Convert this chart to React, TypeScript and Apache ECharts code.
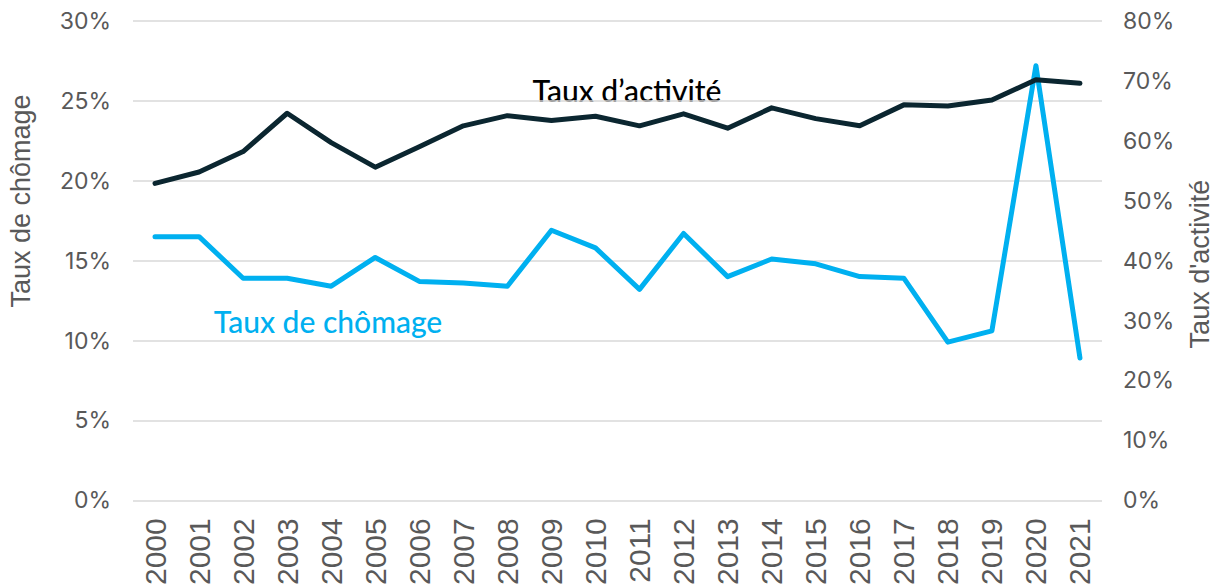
import React, { useEffect, useRef } from "react";
import * as echarts from "echarts";

const years = ["2000","2001","2002","2003","2004","2005","2006","2007","2008","2009","2010","2011","2012","2013","2014","2015","2016","2017","2018","2019","2020","2021"];
const chomage = [16.5,16.5,13.9,13.9,13.4,15.2,13.7,13.6,13.4,16.9,15.8,13.2,16.7,14.0,15.1,14.8,14.0,13.9,9.9,10.6,27.2,8.9];
const activite = [52.9,54.8,58.2,64.6,59.7,55.6,59.0,62.5,64.2,63.4,64.1,62.5,64.5,62.1,65.5,63.7,62.5,66.0,65.8,66.8,70.2,69.6];
const leftTicks = { min: 0, max: 30, interval: 5 };
const rightTicks = { min: 0, max: 80, interval: 10 };

const BLUE = "#00B0F0";
const DARK = "#0B2630";
const GRAY = "#595959";

export default function App() {
  const ref = useRef<HTMLDivElement>(null);
  useEffect(() => {
    document.body.style.margin = "0";
    const chart = echarts.init(ref.current!, null, { renderer: "svg" });
    chart.setOption({
      animation: false,
      grid: { left: 133, right: 117, top: 21, bottom: 86, containLabel: false },
      xAxis: {
        type: "category",
        data: years,
        boundaryGap: true,
        axisLine: { show: false },
        axisTick: { show: false },
        axisLabel: { rotate: 90, fontSize: 30, color: GRAY, margin: 18, fontFamily: "Liberation Sans, Arial, sans-serif" },
      },
      yAxis: [
        {
          type: "value",
          ...leftTicks,
          axisLine: { show: false },
          axisTick: { show: false },
          splitLine: { lineStyle: { color: "#d9d9d9", width: 1.5 } },
          axisLabel: { formatter: "{value}%", fontSize: 23, color: GRAY, margin: 22, fontFamily: "Inter, sans-serif" },
        },
        {
          type: "value",
          ...rightTicks,
          position: "right",
          axisLine: { show: false },
          axisTick: { show: false },
          splitLine: { show: false },
          axisLabel: { formatter: "{value}%", fontSize: 23, color: GRAY, margin: 21, fontFamily: "Inter, sans-serif" },
        },
      ],
      series: [
        {
          name: "Taux de chômage",
          type: "line",
          yAxisIndex: 0,
          data: chomage,
          symbol: "none",
          lineStyle: { color: BLUE, width: 5, cap: "round", join: "round" },
        },
        {
          name: "Taux d'activité",
          type: "line",
          yAxisIndex: 1,
          data: activite,
          symbol: "none",
          lineStyle: { color: DARK, width: 5, cap: "round", join: "round" },
        },
      ],
      graphic: [
        {
          type: "text",
          x: 627,
          y: 90,
          style: { text: "Taux d’activité", fill: "#000", fontSize: 30, fontWeight: 500, fontFamily: "Lato, sans-serif", textAlign: "center", textVerticalAlign: "middle" },
        },
        {
          type: "text",
          x: 328,
          y: 321,
          style: { text: "Taux de chômage", fill: BLUE, fontSize: 30, fontWeight: 500, fontFamily: "Lato, sans-serif", textAlign: "center", textVerticalAlign: "middle" },
        },
        {
          type: "text",
          x: 21,
          y: 201,
          rotation: Math.PI / 2,
          style: { text: "Taux de chômage", fill: GRAY, fontSize: 27, fontFamily: "Liberation Sans, Arial, sans-serif", textAlign: "center", textVerticalAlign: "middle" },
        },
        {
          type: "text",
          x: 1200,
          y: 264,
          rotation: Math.PI / 2,
          style: { text: "Taux d'activité", fill: GRAY, fontSize: 27, fontFamily: "Liberation Sans, Arial, sans-serif", textAlign: "center", textVerticalAlign: "middle" },
        },
      ],
    });
    return () => chart.dispose();
  }, []);
  return <div ref={ref} style={{ width: 1219, height: 588 }} />;
}
